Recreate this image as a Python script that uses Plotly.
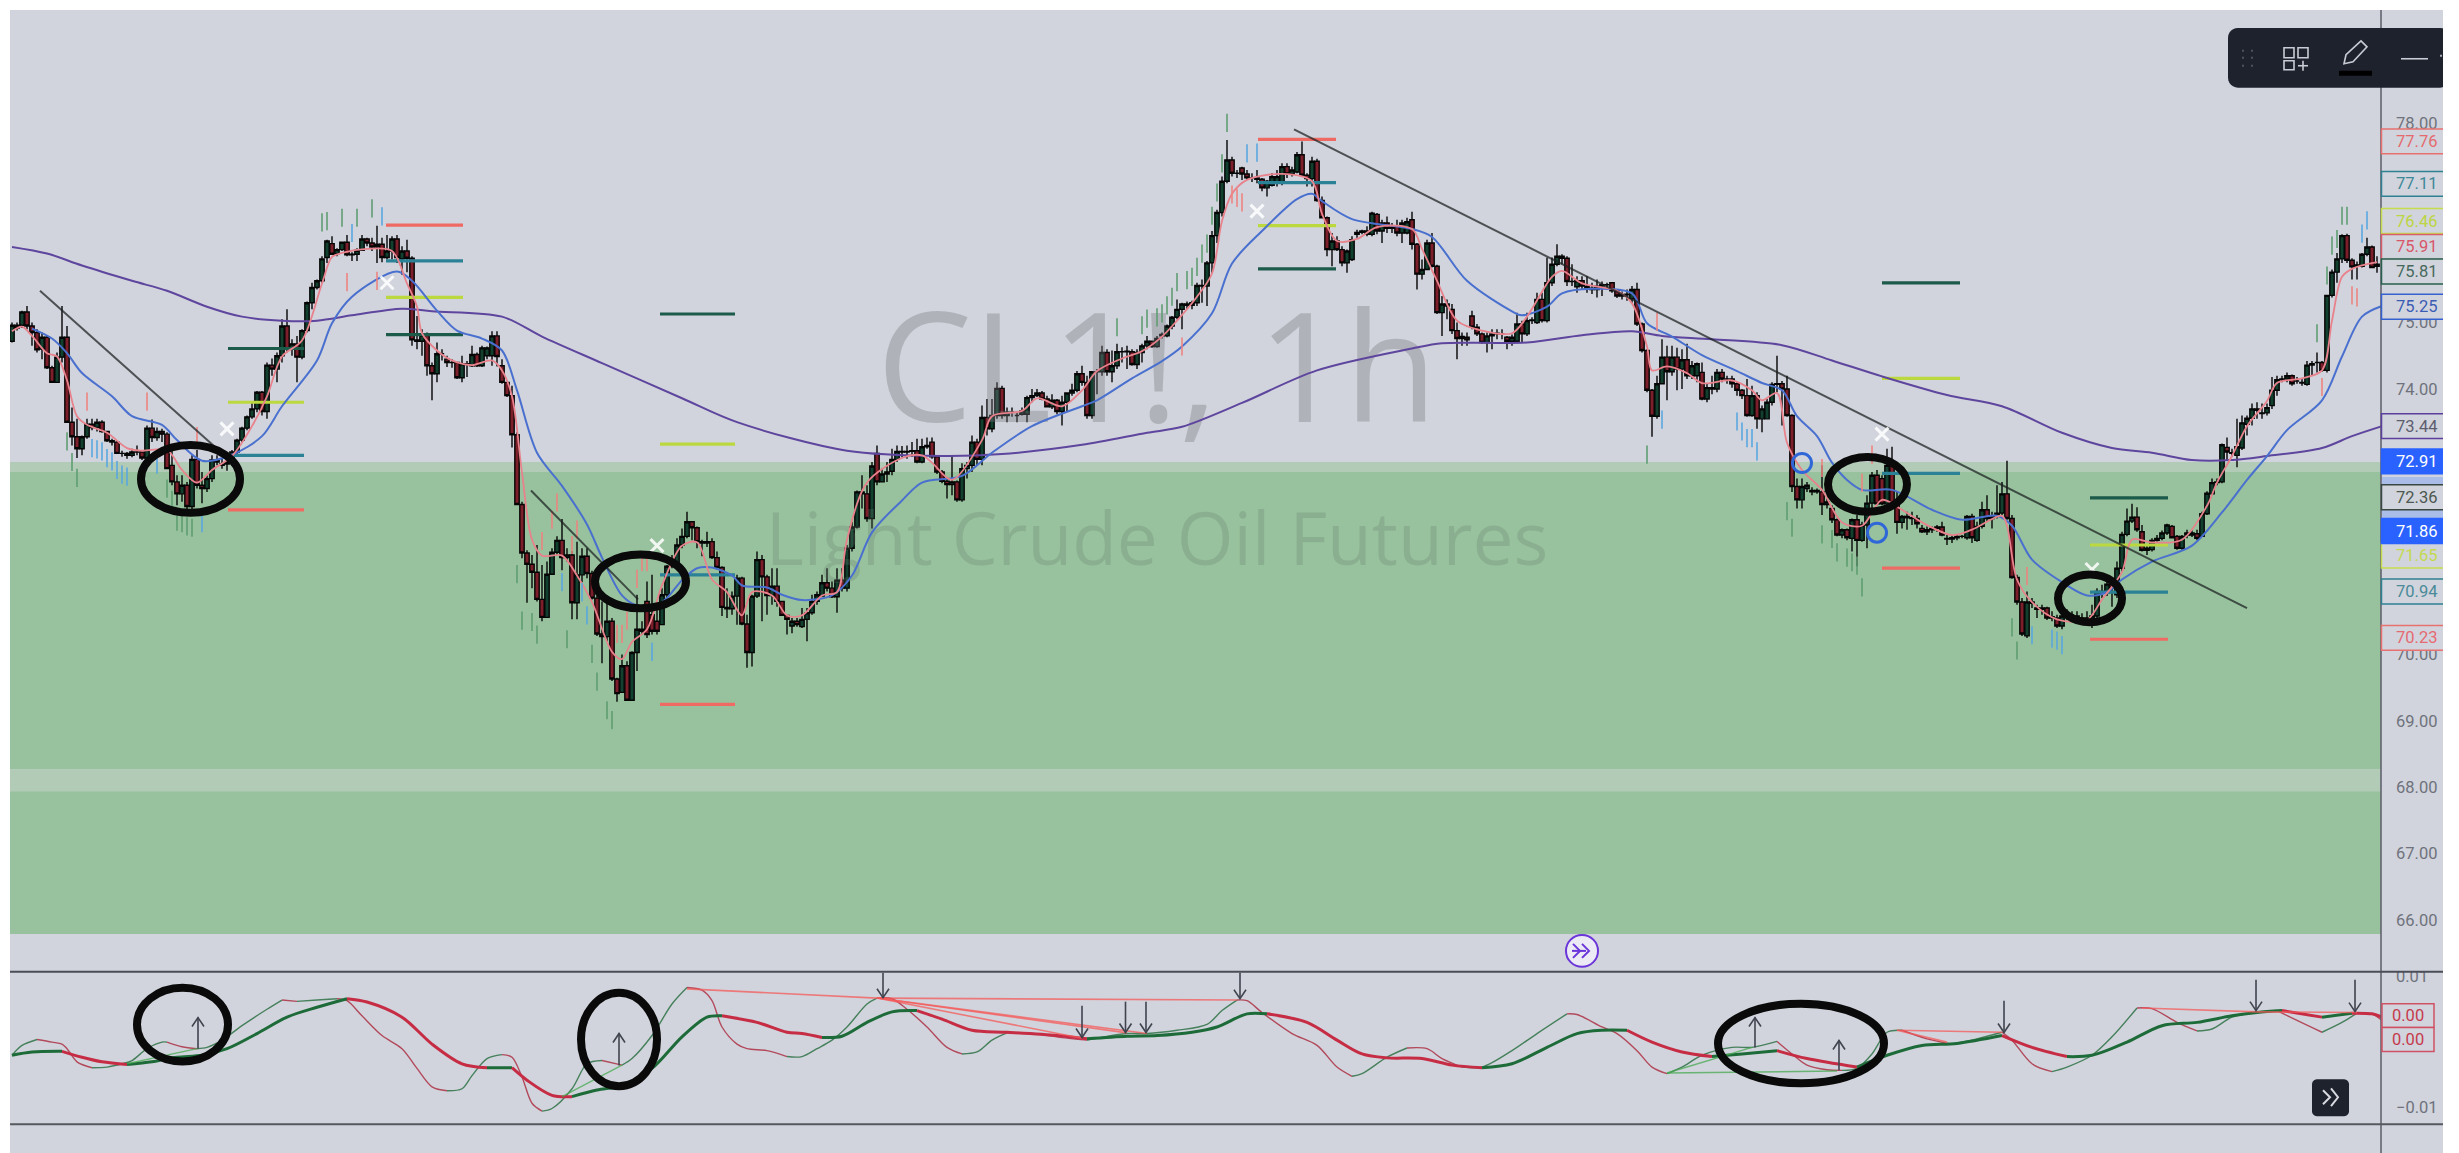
import math
import plotly.graph_objects as go

W, H = 2459, 1153
BG = "#d1d4dc"

# ---------------- candles (bar index is list position) ----------------
opens = [
74.72,74.96,74.96,75.16,74.95,74.85,74.6,74.78,74.32,74.1,
74.48,74.78,73.5,73.28,73.1,73.28,73.47,73.42,73.5,73.36,
73.22,73.2,73.03,73.03,73.0,73.05,73.05,72.96,73.41,73.27,
73.36,73.32,72.85,72.6,72.42,72.55,72.23,72.94,72.55,72.5,
72.65,72.93,72.85,72.87,72.9,73.05,73.23,73.41,73.58,73.7,
73.95,73.66,74.36,74.3,74.5,74.95,74.6,74.68,74.48,74.88,
75.3,75.53,75.63,75.98,76.19,76.04,76.1,76.21,76.02,76.03,
76.09,76.26,76.2,76.14,76.18,75.98,76.08,76.26,75.96,76.08,
75.97,74.74,74.72,74.81,74.35,74.23,74.53,74.45,74.4,74.4,
74.17,74.38,74.35,74.52,74.35,74.5,74.5,74.8,74.35,74.1,
73.9,73.31,72.26,71.53,71.36,71.24,70.83,70.56,71.21,71.54,
71.72,71.46,71.5,70.78,71.2,71.48,71.22,70.85,70.31,70.27,
70.5,69.63,69.43,69.83,69.31,70.03,70.38,70.8,70.6,70.5,
70.45,70.9,71.33,71.35,71.65,71.78,72.0,71.91,71.7,71.68,
71.7,71.46,71.31,70.71,70.69,70.88,71.15,70.46,70.03,70.88,
71.43,71.17,70.89,71.03,70.8,70.59,70.43,70.5,70.42,70.53,
70.63,70.8,70.88,71.08,71.0,70.87,71.12,71.0,71.6,71.92,
72.45,72.42,72.05,73.03,72.6,72.72,72.76,72.94,73.06,73.05,
73.06,73.07,72.9,73.13,73.2,72.98,72.75,72.61,72.56,72.6,
72.33,72.8,72.85,73.2,72.94,73.57,73.4,73.6,74.01,73.6,
73.65,73.6,73.62,73.62,73.87,73.9,73.94,73.85,73.73,73.83,
73.66,73.8,73.94,73.98,74.23,74.1,73.6,74.26,74.26,74.55,
74.26,74.35,74.56,74.56,74.56,74.37,74.55,74.65,74.72,74.64,
74.8,74.8,74.95,75.08,75.2,75.28,75.26,75.3,75.56,75.55,
75.9,76.31,76.66,77.13,77.45,77.25,77.33,77.24,77.18,77.18,
77.16,77.03,77.07,77.1,77.1,77.35,77.24,77.27,77.53,77.22,
77.17,77.43,76.84,76.58,76.1,76.23,76.1,75.9,75.95,76.33,
76.36,76.33,76.33,76.63,76.38,76.5,76.42,76.45,76.35,76.35,
76.55,76.18,75.73,75.8,76.2,75.85,75.15,75.28,75.2,74.88,
74.76,74.78,75.1,74.93,74.83,74.7,74.8,74.83,74.83,74.78,
74.72,74.72,74.98,74.83,75.03,75.0,75.35,75.03,75.6,75.88,
76.0,75.97,75.62,75.54,75.63,75.55,75.52,75.5,75.55,75.57,
75.6,75.48,75.4,75.42,75.36,75.5,74.98,74.58,73.98,73.59,
74.08,74.48,74.26,74.48,74.3,74.44,74.2,74.2,74.25,73.85,
74.02,74.0,74.25,74.15,74.15,74.08,73.98,73.9,73.6,73.9,
73.55,73.55,73.8,74.07,74.08,74.0,73.6,72.53,72.33,72.5,
72.45,72.47,72.45,72.26,72.2,72.03,71.8,71.88,71.75,72.03,
71.72,71.95,72.28,72.7,72.65,72.27,72.85,72.27,71.99,72.08,
72.06,72.05,71.9,71.85,71.88,71.9,71.92,71.75,71.74,71.76,
71.78,71.76,72.08,71.72,71.93,72.18,72.05,72.1,72.13,72.42,
72.05,71.16,70.79,70.28,70.79,70.7,70.68,70.7,70.55,70.55,
70.43,70.58,70.6,70.58,70.55,70.55,70.53,70.58,70.95,70.93,
71.06,70.9,71.3,71.81,72.01,72.07,71.85,71.57,71.58,71.72,
71.75,71.83,71.93,71.78,71.6,71.8,71.83,71.82,71.78,72.12,
72.42,72.59,72.6,73.12,73.03,73.0,73.11,73.47,73.56,73.7,
73.63,73.64,73.75,73.98,74.14,74.15,74.2,74.12,74.1,74.07,
74.36,74.4,74.4,74.28,75.41,75.76,75.96,76.31,75.94,75.85,
75.85,76.03,76.14,75.85]
closes = [
74.96,74.92,75.16,74.95,74.85,74.59,74.78,74.32,74.1,74.48,
74.78,73.5,73.28,73.1,73.28,73.47,73.42,73.5,73.36,73.22,
73.2,73.03,73.03,73.0,73.05,73.05,72.96,73.41,73.27,73.36,
73.32,72.8,72.6,72.42,72.55,72.23,72.94,72.55,72.5,72.65,
72.93,72.9,72.87,72.9,73.05,73.23,73.41,73.58,73.7,73.95,
73.66,74.36,74.3,74.5,74.95,74.6,74.68,74.48,74.88,75.3,
75.53,75.63,75.96,76.23,76.03,76.1,76.21,76.02,76.03,76.09,
76.26,76.2,76.14,76.18,75.98,76.08,76.26,75.98,76.08,75.97,
74.74,74.72,74.81,74.35,74.23,74.53,74.53,74.4,74.4,74.17,
74.38,74.37,74.52,74.35,74.62,74.62,74.8,74.49,74.1,73.9,
73.31,72.26,71.53,71.36,71.24,70.83,70.56,71.21,71.54,71.72,
71.46,71.5,70.78,71.2,71.48,71.22,70.85,70.31,70.27,70.5,
69.63,69.41,69.83,69.31,70.03,70.38,70.35,70.3,70.35,70.35,
70.9,71.33,71.35,71.65,71.78,72.0,71.91,71.7,71.68,71.7,
71.46,71.31,70.71,70.69,70.88,71.15,70.46,70.03,70.88,71.43,
71.17,70.89,71.03,70.8,70.59,70.53,70.5,70.45,70.53,70.63,
70.8,70.9,71.08,71.0,70.87,71.12,71.0,71.6,71.92,72.45,
72.42,72.05,72.84,72.6,72.72,72.75,72.94,73.06,73.05,73.06,
73.07,72.9,73.13,73.15,72.98,72.75,72.61,72.56,72.6,72.33,
72.8,72.85,73.2,72.94,73.57,73.4,73.6,74.01,73.6,73.65,
73.65,73.6,73.67,73.87,73.9,73.94,73.85,73.73,73.83,73.66,
73.8,73.94,73.98,74.23,74.1,73.6,74.26,74.26,74.55,74.26,
74.35,74.56,74.56,74.57,74.37,74.55,74.65,74.72,74.64,74.76,
74.82,74.95,75.08,75.2,75.28,75.26,75.3,75.56,75.55,75.9,
76.31,76.66,77.13,77.45,77.25,77.25,77.24,77.18,77.18,77.16,
77.03,77.13,77.2,77.2,77.35,77.24,77.3,77.53,77.22,77.17,
77.43,76.84,76.58,76.1,76.23,76.1,75.9,76.08,76.25,76.36,
76.38,76.38,76.65,76.38,76.5,76.42,76.45,76.35,76.5,76.52,
76.18,75.73,75.8,76.2,75.85,75.15,75.28,75.25,74.88,74.76,
74.79,74.74,74.93,74.83,74.7,74.8,74.83,74.84,74.83,74.72,
74.78,74.98,74.83,75.03,75.04,75.35,75.03,75.6,75.88,76.0,
75.97,75.62,75.62,75.63,75.55,75.52,75.5,75.55,75.57,75.57,
75.48,75.4,75.42,75.43,75.5,74.98,74.58,73.98,73.59,74.08,
74.48,74.26,74.48,74.3,74.44,74.2,74.35,74.38,73.85,74.02,
74.0,74.25,74.15,74.15,74.08,73.98,73.9,73.6,73.9,73.55,
73.7,73.8,74.07,74.08,74.0,73.6,72.53,72.33,72.53,72.55,
72.47,72.45,72.26,72.3,72.03,71.8,71.88,71.76,72.03,71.72,
71.95,72.28,72.7,72.27,72.27,72.85,72.27,71.99,72.08,72.06,
72.05,71.97,71.85,71.88,71.9,71.92,71.8,71.74,71.76,71.78,
71.78,72.08,71.76,71.93,72.18,72.05,72.08,72.13,72.42,72.05,
71.16,70.79,70.31,70.79,70.77,70.68,70.7,70.55,70.57,70.43,
70.58,70.6,70.6,70.57,70.55,70.53,70.58,70.95,70.93,71.06,
71.0,71.3,71.81,72.01,72.07,71.88,71.57,71.6,71.72,71.75,
71.83,71.95,71.76,71.6,71.78,71.83,71.8,71.75,72.12,72.43,
72.59,72.6,73.16,73.05,73.04,73.13,73.49,73.56,73.7,73.68,
73.64,73.72,73.98,74.14,74.15,74.2,74.08,74.12,74.09,74.36,
74.38,74.4,74.28,75.41,75.76,75.96,76.31,75.94,75.84,75.87,
76.03,76.14,75.83,75.88]
highs = [
75.0,75.0,75.18,75.25,75.0,74.9,74.85,74.8,74.35,74.55,
75.25,74.95,73.72,73.55,73.3,73.55,73.55,73.55,73.53,73.36,
73.25,73.22,73.07,73.05,73.1,73.15,73.05,73.45,73.54,73.42,
73.4,73.35,73.1,72.7,72.7,72.6,73.0,73.08,72.75,72.7,
73.0,73.0,72.95,72.92,73.08,73.25,73.43,73.6,73.8,73.97,
73.97,74.4,74.46,74.55,75.05,75.2,74.75,74.8,74.9,75.32,
75.6,75.65,76.0,76.25,76.3,76.12,76.22,76.32,76.06,76.12,
76.32,76.28,76.28,76.46,76.28,76.32,76.3,76.32,76.15,76.25,
76.0,75.1,74.9,74.85,74.4,74.7,74.6,74.5,74.45,74.4,
74.5,74.42,74.65,74.55,74.65,74.64,74.87,74.87,74.45,74.1,
74.05,73.35,72.3,71.57,71.5,71.65,71.35,71.4,71.6,71.78,
72.04,71.6,71.56,71.7,71.6,71.6,71.26,70.88,70.8,70.8,
70.55,69.65,70.0,69.9,70.05,70.9,70.5,71.1,71.2,70.7,
71.0,71.35,71.5,71.75,71.9,72.15,72.0,71.93,71.73,71.85,
71.75,71.55,71.33,71.0,70.95,71.2,71.17,70.6,70.9,71.55,
71.5,71.2,71.3,71.3,70.8,70.6,70.55,70.55,70.7,70.7,
70.9,70.95,71.2,71.3,71.1,71.3,71.3,71.65,72.0,72.47,
72.7,72.55,72.9,73.15,72.8,72.9,73.1,73.15,73.14,73.15,
73.2,73.25,73.25,73.27,73.27,73.0,72.78,72.65,73.0,72.62,
72.88,72.9,73.3,73.25,73.75,73.85,73.85,74.1,74.05,73.72,
73.72,73.65,73.72,73.9,74.0,74.0,73.97,73.9,73.92,73.85,
73.9,73.95,74.08,74.27,74.35,74.2,74.27,74.3,74.65,74.6,
74.58,74.68,74.63,74.65,74.6,74.6,74.68,74.8,74.72,74.8,
74.85,74.97,75.1,75.35,75.3,75.32,75.33,75.6,75.65,75.93,
76.38,76.7,77.2,77.75,77.5,77.3,77.35,77.3,77.25,77.3,
77.18,77.15,77.25,77.3,77.4,77.4,77.35,77.57,77.73,77.25,
77.5,77.47,76.9,76.6,76.35,76.3,76.15,76.1,76.3,76.4,
76.4,76.45,76.67,76.65,76.55,76.6,76.5,76.55,76.55,76.58,
76.67,76.2,75.95,76.25,76.35,75.87,75.4,75.35,75.28,75.0,
74.85,74.85,75.18,74.98,74.85,74.85,74.9,74.9,74.9,74.8,
74.82,75.15,75.03,75.15,75.08,75.45,75.45,75.98,75.98,76.18,
76.03,76.0,75.88,75.7,75.7,75.7,75.6,75.65,75.62,75.6,
75.6,75.5,75.47,75.5,75.55,75.6,75.0,74.6,74.0,74.2,
74.75,74.65,74.65,74.62,74.6,74.68,74.42,74.4,74.4,74.08,
74.2,74.3,74.3,74.2,74.2,74.1,74.0,74.15,74.05,73.95,
73.75,73.85,74.1,74.5,74.12,74.2,73.62,72.65,72.65,72.6,
72.52,72.5,72.85,72.35,72.25,72.05,71.9,71.9,72.05,72.1,
72.0,72.4,72.75,72.78,72.7,73.1,73.13,72.45,72.1,72.15,
72.15,72.1,71.95,71.93,71.93,71.95,72.0,71.8,71.8,71.8,
71.8,72.1,72.12,72.0,72.3,72.4,72.15,72.55,72.6,72.92,
72.1,71.2,70.85,70.95,70.85,70.75,70.75,70.72,70.65,70.6,
70.62,70.68,70.65,70.65,70.62,70.65,70.75,71.0,71.05,71.1,
71.15,71.4,71.85,72.2,72.27,72.22,71.95,71.65,71.75,71.8,
71.87,71.97,71.95,71.8,71.8,71.88,71.87,71.88,72.15,72.46,
72.65,72.65,73.18,73.27,73.1,73.55,73.6,73.6,73.78,73.8,
73.78,73.78,74.18,74.2,74.2,74.25,74.22,74.18,74.15,74.42,
74.42,74.55,74.42,75.42,75.8,76.05,76.33,76.34,75.97,75.92,
76.05,76.28,76.16,76.0]
lows = [
74.7,74.88,74.92,74.9,74.65,74.55,74.45,74.3,74.1,74.1,
74.4,73.5,73.15,72.96,73.0,73.25,73.38,73.36,73.34,73.2,
73.15,73.02,72.98,72.95,72.97,73.0,72.93,72.85,73.2,73.22,
73.2,72.79,72.55,72.25,72.3,72.18,72.15,72.5,72.28,72.45,
72.6,72.85,72.8,72.77,72.85,73.0,73.2,73.38,73.55,73.65,
73.6,73.55,74.2,74.1,74.4,74.55,74.5,74.1,74.45,74.85,
75.2,75.5,75.6,75.9,76.02,76.0,76.08,76.0,75.93,75.93,
76.08,76.15,76.08,75.9,75.91,75.95,75.95,75.9,75.72,75.76,
74.65,74.6,74.5,74.2,73.83,74.1,74.43,74.33,74.32,74.15,
74.1,74.18,74.33,74.33,74.33,74.45,74.35,74.34,74.08,73.88,
73.12,72.25,71.45,70.78,71.0,70.8,70.5,70.55,71.2,71.5,
71.27,71.4,70.53,70.53,71.09,71.15,70.83,70.28,69.87,70.2,
69.6,69.29,69.42,69.3,69.3,69.75,70.3,70.25,70.3,70.3,
70.45,70.85,71.3,71.3,71.6,71.75,71.72,71.6,71.48,71.62,
71.44,71.28,70.58,70.55,70.6,70.45,70.44,69.8,69.82,70.85,
70.5,70.6,70.75,70.72,70.58,70.3,70.32,70.42,70.4,70.2,
70.6,70.75,70.88,70.95,70.85,70.63,70.95,70.95,71.55,71.9,
72.2,72.0,71.9,72.55,72.6,72.6,72.7,72.9,72.97,72.95,
72.98,72.88,72.88,73.1,72.95,72.72,72.58,72.35,72.4,72.3,
72.3,72.65,72.75,72.85,72.85,73.3,73.35,73.55,73.55,73.5,
73.58,73.5,73.6,73.5,73.8,73.88,73.83,73.72,73.7,73.62,
73.45,73.66,73.9,73.95,74.05,73.55,73.55,73.92,74.2,74.2,
74.1,74.3,74.4,74.3,74.35,74.3,74.4,74.6,74.62,74.62,
74.76,74.78,74.9,75.05,74.9,75.2,75.2,75.25,75.3,75.25,
75.75,76.2,76.6,77.1,77.2,77.18,77.15,77.15,77.12,77.1,
76.98,76.9,77.05,77.05,77.07,77.18,77.2,77.25,77.2,77.05,
77.05,76.82,76.6,76.0,75.85,76.08,75.85,75.75,75.93,76.28,
76.33,76.3,76.3,76.33,76.2,76.35,76.35,76.3,76.2,76.33,
76.1,75.5,75.65,75.8,75.83,75.13,74.8,75.05,74.83,74.45,
74.65,74.65,74.9,74.8,74.68,74.55,74.6,74.75,74.75,74.6,
74.65,74.7,74.7,74.8,74.98,74.98,75.0,75.0,75.55,75.85,
75.88,75.55,75.55,75.45,75.5,75.45,75.43,75.38,75.4,75.5,
75.45,75.37,75.35,75.33,75.3,74.95,74.55,73.95,73.28,73.55,
74.08,73.83,74.2,73.98,74.0,74.15,74.15,74.1,73.83,73.8,
73.92,73.95,74.1,74.08,74.02,73.9,73.85,73.58,73.58,73.4,
73.35,73.55,73.75,73.95,73.45,73.58,72.45,72.2,72.2,72.45,
72.4,72.42,72.1,72.2,71.98,71.78,71.75,71.72,71.55,71.33,
71.7,71.6,72.2,72.25,72.25,72.25,72.25,71.82,71.9,71.88,
71.95,71.9,71.83,71.8,71.83,71.85,71.78,71.65,71.68,71.72,
71.75,71.73,71.68,71.7,71.9,72.0,71.9,72.05,72.1,72.03,
71.14,70.75,70.28,70.25,70.7,70.55,70.6,70.52,70.5,70.4,
70.38,70.52,70.52,70.5,70.47,70.45,70.4,70.55,70.85,70.88,
70.72,70.85,71.25,71.78,71.98,71.85,71.55,71.5,71.55,71.7,
71.72,71.8,71.75,71.58,71.58,71.75,71.77,71.72,71.78,72.1,
72.4,72.55,72.58,72.93,72.98,72.82,73.08,73.3,73.45,73.55,
73.55,73.6,73.7,73.9,74.1,74.1,74.05,74.08,74.05,74.05,
74.2,74.25,74.26,74.25,75.38,75.6,75.9,75.9,75.65,75.65,
75.83,76.0,75.82,75.75]

# ---------------- moving averages (bar index, price) ----------------
red_x = [0,2,4,7,9,11,13,15,19,23,26,31,34,37,40,44,48,51,54,58,62,64,66,71,76,79,81,82,85,88,92,96,98,100,102,104,106,110,113,116,120,122,124,127,130,134,137,140,143,146,148,152,155,158,162,165,167,171,178,182,184,188,194,196,202,205,210,214,217,222,226,230,233,237,240,242,244,247,254,260,262,265,269,273,280,282,285,289,294,300,303,308,310,314,321,324,327,328,331,335,338,344,348,350,353,355,358,362,366,370,374,378,382,388,392,398,399,401,404,409,415,418,422,424,428,434,439,441,444,447,451,453,458,462,464,466,468,473]
red_y = [74.87,74.94,74.8,74.54,74.49,74.13,73.59,73.46,73.34,73.11,73.07,73.08,72.78,72.59,72.78,72.99,73.44,73.89,74.49,74.73,75.59,75.99,76.05,76.11,76.08,75.59,75.24,74.84,74.58,74.43,74.36,74.43,74.28,73.89,72.74,71.73,71.49,71.49,71.19,70.79,70.04,69.93,70.19,70.38,71.04,71.64,71.69,71.13,70.94,70.59,70.94,70.89,70.59,70.59,70.89,70.94,71.73,72.59,72.96,73.0,72.89,72.63,73.23,73.59,73.67,73.86,73.74,73.98,74.27,74.46,74.57,74.79,75.03,75.39,75.74,76.53,76.94,77.15,77.24,77.13,76.64,76.23,76.26,76.44,76.41,76.11,75.63,75.03,74.88,74.84,75.09,75.69,75.78,75.59,75.48,75.29,74.64,74.28,74.34,74.24,74.09,74.13,73.98,73.83,73.94,73.19,72.78,72.48,71.99,71.94,72.33,72.18,71.99,71.8,71.88,72.09,71.94,71.13,70.79,70.53,70.52,70.83,71.24,71.73,71.69,71.73,72.24,72.59,72.99,73.44,73.82,74.09,74.16,74.28,75.03,75.69,75.81,75.91]
blue_x = [4,8,11,14,20,24,30,33,38,44,50,54,61,64,68,77,80,85,89,94,98,101,105,110,115,118,122,125,130,134,137,140,144,146,151,154,158,164,168,172,178,182,190,196,204,214,217,224,230,234,240,244,250,257,260,262,268,280,284,291,300,302,307,310,316,324,327,332,338,345,350,354,357,361,364,367,370,376,384,390,397,400,404,410,415,419,422,428,436,442,447,451,455,462,466,470,474]
blue_y = [74.91,74.76,74.54,74.24,73.89,73.59,73.46,73.23,72.92,73.01,73.29,73.74,74.43,74.99,75.39,75.77,75.63,75.18,74.88,74.76,74.58,73.98,73.04,72.54,71.96,71.46,70.89,70.74,70.79,71.12,71.3,71.31,71.19,71.04,71.01,70.9,70.82,70.89,71.19,71.84,72.32,72.59,72.69,73.04,73.44,73.74,73.83,74.16,74.42,74.64,75.14,75.89,76.38,76.86,76.94,76.83,76.56,76.41,76.29,75.63,75.17,75.11,75.24,75.44,75.51,75.44,74.99,74.79,74.51,74.27,74.09,73.98,73.59,73.29,72.89,72.63,72.48,72.48,72.18,72.03,72.09,71.94,71.43,71.09,70.89,70.94,71.13,71.4,71.64,72.14,72.63,72.99,73.38,73.83,74.49,75.09,75.25]
purple_x = [0,7,14,24,31,39,46,54,61,68,78,84,98,106,118,134,145,167,186,198,214,227,234,246,261,280,286,303,314,324,330,340,354,364,374,387,398,410,420,428,436,444,451,462,468,474]
purple_y = [76.14,76.04,75.86,75.63,75.48,75.24,75.09,75.03,75.03,75.11,75.21,75.17,75.09,74.79,74.39,73.86,73.5,73.07,72.99,73.02,73.16,73.34,73.43,73.79,74.28,74.61,74.69,74.7,74.81,74.87,74.8,74.75,74.66,74.43,74.19,73.91,73.74,73.34,73.11,73.04,72.93,72.93,72.99,73.11,73.29,73.44]

# ---------------- signal ticks ----------------
green_x = [11,12,13,31,32,33,34,35,36,62,63,66,69,72,101,102,104,105,111,116,117,119,120,221,226,227,229,230,231,232,233,235,236,237,238,239,240,241,242,243,327,355,356,362,364,365,367,368,369,370,400,401,461,463,464,465,466,467]
green_y = [73.21,72.9,72.66,72.5,72.33,72.0,71.98,71.93,71.91,76.51,76.53,76.58,76.58,76.72,71.21,70.51,70.49,70.3,70.23,70.01,69.59,69.16,69.01,74.93,74.96,75.06,75.08,75.14,75.26,75.39,75.61,75.64,75.69,75.84,76.04,76.19,76.61,76.96,77.4,78.01,73.01,72.16,71.91,71.81,71.74,71.54,71.46,71.39,71.34,71.01,70.41,70.06,74.84,75.71,76.16,76.26,76.61,76.61]
sky_x = [16,17,18,19,20,21,22,23,29,38,68,74,110,114,115,128,247,249,330,345,346,347,348,349,404,408,409,410,470,471]
sky_y = [73.11,73.09,73.06,72.96,72.91,72.78,72.71,72.68,72.86,71.98,76.35,76.6,71.09,70.94,70.59,70.04,77.55,77.56,73.54,73.51,73.36,73.26,73.26,73.06,70.29,70.24,70.21,70.14,76.34,76.54]
pink_x = [15,27,37,67,73,106,108,109,112,113,121,122,123,125,126,127,234,244,245,246,329,362,370,372,403,462,468,469]
pink_y = [73.81,73.81,73.29,75.61,75.63,71.71,72.03,72.29,71.65,71.88,70.31,70.31,70.51,71.14,71.39,71.39,74.64,76.93,76.88,76.81,75.01,72.81,72.59,73.01,71.18,74.03,75.41,75.38]
cross_x = [43,75,129,249,374,416]
cross_y = [73.4,75.6,71.64,76.68,73.32,71.28]
ring_x = [358,373]
ring_y = [72.885,71.835]

# ---------------- target levels: start bar, end bar, red, teal, yellow, dark green ----------------
level_x0 = [43.2,74.8,129.6,249.2,374,415.6]
level_x1 = [58.4,90.2,144.6,264.8,389.6,431.2]
level_red = [72.18,76.47,69.25,77.76,71.3,70.23]
level_teal = [73.0,75.93,71.2,77.11,72.73,70.94]
level_yellow = [73.8,75.38,73.17,76.46,74.16,71.65]
level_green = [74.61,74.82,75.13,75.81,75.6,72.36]

# trend lines
trend_x = [5.6,44.2,None,103.8,125.2,None,256.4,447]
trend_y = [75.48,72.885,None,72.47,70.83,None,77.91,70.7]

# ---------------- oscillator (x = bar index, y in units of 0.0001) ----------------
thin_x = [0,2,5,8,10,11,13,16,19,22,24,27,30,31,34,37,39,42,46,51,54,57,61,65,67,70,74,78,81,84,87,90,92,95,98,100,102,104,106,108,112,115,118,122,124,128,132,135,138,140,142,145,147,151,155,158,161,164,167,171,173,176,179,183,187,190,193,196,199,204,211,215,223,227,233,239,242,245,247,250,256,261,265,268,270,275,279,283,286,290,294,300,305,311,313,318,321,325,328,331,334,338,344,348,353,356,359,363,366,369,372,375,378,383,388,393,398,400,404,408,411,416,420,425,428,433,437,440,444,449,453,457,462,466,469,472,474]
thin_y = [-21,-6,3,-1,-4,-11,-31,-40,-39,-34,-29,-11,-1,-1,-8,-11,-9,2,24,49,63,61,63,65,62,39,9,-11,-41,-69,-75,-72,-52,-26,-20,-24,-54,-94,-106,-102,-72,-34,-29,-36,-26,9,57,82,78,62,22,-4,-11,-14,-23,-23,-11,2,22,57,66,65,49,22,-9,-19,-16,2,13,12,5,2,12,12,17,26,47,63,62,44,12,-6,-39,-53,-49,-24,-10,-11,-26,-39,-39,-14,12,42,41,22,12,-14,-39,-49,-39,-21,-9,-9,0,-19,-36,-43,-44,-41,-19,14,17,4,-4,4,14,2,-34,-46,-39,-21,7,51,50,29,16,19,37,44,47,32,14,29,43,42,32]
slow_x = [0,4,10,14,18,23,28,33,38,43,49,55,61,67,71,78,84,90,95,100,103,108,112,117,122,128,134,139,142,149,155,158,162,166,171,176,181,186,192,199,209,215,223,229,236,241,247,251,259,265,270,275,282,288,294,300,307,313,318,323,328,334,340,346,353,359,369,375,382,389,398,404,411,416,423,430,437,444,449,454,462,468,472,474]
slow_y = [-21,-16,-15,-24,-31,-35,-31,-24,-21,-11,12,37,52,65,60,37,-4,-34,-40,-40,-59,-82,-84,-74,-67,-41,7,37,39,29,14,12,6,8,29,45,47,34,17,14,9,4,8,9,14,22,42,42,29,2,-19,-25,-26,-36,-40,-34,-9,12,17,17,-1,-16,-23,-19,-14,-26,-39,-21,-6,-3,9,-9,-23,-21,-1,24,29,39,44,47,37,43,42,37]
div_red_x = [135,173,None,173,214,None,173,245,None,173,223,None,173,227,None,377,398,None,377,387,None,426,449,None,449,469]
div_red_y = [80,66,None,66,5,None,66,63,None,66,13,None,66,12,None,17,14,None,17,-1,None,51,45,None,45,44]
div_green_x = [23,37,None,110,122,None,331,365,None,331,348]
div_green_y = [-34,-11,None,-84,-36,None,-48,-45,None,-48,-9]

# price-axis tags: text, displayed price position, border, text colour, fill
tag_text = ["77.76","77.11","76.46","75.91","75.81","75.25","73.44","72.91","72.36","71.86","71.65","70.94","70.23"]
tag_pos = [77.73,77.09,76.53,76.14,75.77,75.24,73.44,72.91,72.37,71.86,71.49,70.95,70.25]
tag_line = ["#e8706f","#2f8091","#c6dc4e","#d95c6a","#27604c","#3560d0","#5c3f9c","#2962ff","#3a4640","#2962ff","#c6dc4e","#2f8091","#e8706f"]
tag_font = ["#e46a6e","#3c8798","#bcd542","#d9566a","#47695c","#3b5cb4","#5d5d70","#ffffff","#4c5850","#ffffff","#c3d950","#4a8a99","#e66a72"]
tag_fill = [BG,BG,BG,BG,BG,BG,BG,"#2962ff",BG,"#2962ff",BG,BG,BG]
price_ticks = [66,67,68,69,70,74,75,78]

# zone bands (low, high, colour)
band_lo = [72.75,72.75,68.27,65.79]
band_hi = [72.9,68.27,67.94,67.94]
band_col = ["#b1cbb7","#98c29d","#b1cbb7","#98c29d"]

# pixel helpers for the overlay furniture
def fx(x): return x / W
def fy(y): return 1 - y / H
def rect(x0, y0, x1, y1, fill=None, line=None, lw=1, layer="above"):
    return dict(type="rect", xref="paper", yref="paper", x0=fx(x0), x1=fx(x1), y0=fy(y0), y1=fy(y1),
                fillcolor=fill or "rgba(0,0,0,0)", line=dict(color=line or "rgba(0,0,0,0)", width=lw if line else 0), layer=layer)
def poly(pts, color, lw=2, fill=None, close=False):
    d = "M" + " L".join(f"{fx(x):.5f},{fy(y):.5f}" for x, y in pts) + (" Z" if close else "")
    return dict(type="path", xref="paper", yref="paper", path=d, fillcolor=fill or "rgba(0,0,0,0)",
                line=dict(color=color, width=lw), layer="above")
def rrect(x0, y0, x1, y1, r, fill):
    p = []
    for cx, cy, a0 in [(x1-r, y0+r, -90), (x1-r, y1-r, 0), (x0+r, y1-r, 90), (x0+r, y0+r, 180)]:
        for k in range(7):
            a = math.radians(a0 + 15 * k)
            p.append((cx + r*math.cos(a), cy + r*math.sin(a)))
    return poly(p, fill, 0, fill, True)
def ell(x0, y0, x1, y1, lw=8, color="#0a0a0a", fill=None):
    return dict(type="circle", xref="paper", yref="paper", x0=fx(x0), x1=fx(x1), y0=fy(y0), y1=fy(y1),
                line=dict(color=color, width=lw), fillcolor=fill or "rgba(0,0,0,0)", layer="above")

fig = go.Figure()
# watermark first, so everything sits on it
fig.add_trace(go.Scatter(x=[229], y=[74.08], mode="text", text=["CL1!, 1h"],
    textfont=dict(size=152, family="Open Sans", color="rgba(120,120,124,0.36)"), hoverinfo="skip"))
fig.add_trace(go.Scatter(x=[229], y=[71.62], mode="text", text=["Light Crude Oil Futures"],
    textfont=dict(size=73, family="Open Sans", color="rgba(100,125,110,0.26)"), hoverinfo="skip"))

def levels(vals, col):
    xs, ys = [], []
    for a, b, v in zip(level_x0, level_x1, vals):
        xs += [a, b, None]; ys += [v, v, None]
    fig.add_trace(go.Scatter(x=xs, y=ys, mode="lines", line=dict(color=col, width=3.2), hoverinfo="skip"))
levels(level_red, "#ee6a63"); levels(level_teal, "#2b8196"); levels(level_yellow, "#bcd83f"); levels(level_green, "#1c5a4a")

SMOOTH = dict(shape="spline", smoothing=0.9)
fig.add_trace(go.Scatter(x=purple_x, y=purple_y, mode="lines", line=dict(color="#5e459e", width=2, **SMOOTH)))
fig.add_trace(go.Scatter(x=blue_x, y=blue_y, mode="lines", line=dict(color="#4a70cf", width=2, **SMOOTH)))
fig.add_trace(go.Scatter(x=red_x, y=red_y, mode="lines", line=dict(color="#e8828c", width=1.8, **SMOOTH)))

bars = list(range(min(len(opens), len(highs), len(lows), len(closes))))
fig.add_trace(go.Candlestick(x=bars, open=opens[:len(bars)], high=highs[:len(bars)], low=lows[:len(bars)], close=closes[:len(bars)],
    whiskerwidth=0,
    increasing=dict(line=dict(color="#050505", width=1.4), fillcolor="#12402f"),
    decreasing=dict(line=dict(color="#050505", width=1.4), fillcolor="#7c1f2b")))

def ticks(xs, ys, col):
    fig.add_trace(go.Scatter(x=xs, y=ys, mode="markers", hoverinfo="skip",
        marker=dict(symbol="line-ns", size=13, color=col, line=dict(color=col, width=1.6))))
ticks(green_x, green_y, "#5f9e72"); ticks(sky_x, sky_y, "#5aa7e0"); ticks(pink_x, pink_y, "#ee8480")
fig.add_trace(go.Scatter(x=trend_x, y=trend_y, mode="lines", line=dict(color="rgba(25,30,30,0.72)", width=2)))
fig.add_trace(go.Scatter(x=cross_x, y=cross_y, mode="markers", hoverinfo="skip",
    marker=dict(symbol="x-thin", size=13, color="rgba(255,255,255,0.85)", line=dict(color="rgba(255,255,255,0.85)", width=3))))
fig.add_trace(go.Scatter(x=ring_x, y=ring_y, mode="markers", hoverinfo="skip",
    marker=dict(symbol="circle-open", size=19, color="#2f66d8", line=dict(color="#2f66d8", width=3))))

# oscillator: colour each stretch by direction of the line
def split(xs, ys):
    runs = []
    k = 0
    while k < len(xs) - 1:
        up = ys[k+1] >= ys[k]
        j = k + 1
        while j < len(xs) - 1 and (ys[j+1] >= ys[j]) == up:
            j += 1
        runs.append((up, xs[k:j+1], [v * 1e-4 for v in ys[k:j+1]]))
        k = j
    return runs
for xs, ys, wid, cg, cr in [(thin_x, thin_y, 1.4, "#46805c", "#b24a5c"), (slow_x, slow_y, 3, "#1d6b38", "#c62c44")]:
    for up, rx, ry in split(xs, ys):
        fig.add_trace(go.Scatter(x=rx, y=ry, xaxis="x2", yaxis="y2", mode="lines",
            line=dict(color=cg if up else cr, width=wid, **SMOOTH), hoverinfo="skip"))
fig.add_trace(go.Scatter(x=div_red_x, y=[None if v is None else v*1e-4 for v in div_red_y], xaxis="x2", yaxis="y2", mode="lines", line=dict(color="rgba(245,90,90,0.75)", width=1.6), hoverinfo="skip"))
fig.add_trace(go.Scatter(x=div_green_x, y=[None if v is None else v*1e-4 for v in div_green_y], xaxis="x2", yaxis="y2", mode="lines", line=dict(color="rgba(70,170,80,0.75)", width=1.4), hoverinfo="skip"))

shapes = [rect(10, 5, 2443, 1153, BG, layer="below")]
for lo, hi, c in zip(band_lo, band_hi, band_col):
    shapes.append(dict(type="rect", xref="paper", yref="y", x0=fx(10), x1=fx(2381), y0=lo, y1=hi,
                       fillcolor=c, line=dict(width=0), layer="below"))

# frame lines
shapes.append(poly([(2381, 5), (2381, 1153)], "#5a5d68", 1.5))
shapes.append(rect(2382, 955, 2443, 971, BG))
shapes.append(poly([(10, 971), (2443, 971)], "#4a4d57", 2))
shapes.append(poly([(10, 1124), (2443, 1124)], "#55585f", 2))

# blue band behind the two live-price tags
shapes.append(rect(2382, 474, 2444, 520, "#a9bde8"))
annots = []
def py(p): return 319 + (75 - p) / 0.015
order = [2, 0, 1, 3, 4, 5, 6, 8, 7, 10, 9, 11, 12]
for k in order:
    c = py(tag_pos[k])
    shapes.append(rect(2381.5, c - 12.5, 2446, c + 12.5, tag_fill[k], tag_line[k], 1.5))
    annots.append(dict(xref="paper", yref="paper", x=fx(2416), y=fy(c), text=tag_text[k], showarrow=False,
        font=dict(family="Roboto", size=16.5, color=tag_font[k]), xanchor="center", yanchor="middle"))
for c in (1015, 1039):
    shapes.append(rect(2382, c - 12, 2434, c + 12, BG, "#cf5264", 1.5))
    annots.append(dict(xref="paper", yref="paper", x=fx(2408), y=fy(c), text="0.00", showarrow=False,
        font=dict(family="Roboto", size=16.5, color="#c63a4e"), xanchor="center", yanchor="middle"))

# hand-drawn ellipses
for e in [(141,442,240,510),(595,552,686,606),(1828,454,1907,509),(2058,572,2122,620),
          (137,987,228,1061),(581,992,657,1086),(1718,1003,1884,1083)]:
    shapes.append(ell(*e))

# oscillator arrows
ARROW = "#40444f"
for x, y0, y1 in [(198,1048,1017),(619,1065,1033),(1755,1047,1017),(1839,1070,1040)]:
    shapes.append(poly([(x, y0), (x, y1)], ARROW, 1.6))
    shapes.append(poly([(x-6, y1+9), (x, y1), (x+6, y1+9)], ARROW, 1.6))
for x, y0, y1 in [(883,972,997),(1082,1005,1037),(1125.5,1001,1032),(1146,1001,1032),(1240,972,998),(2004,1000,1032),(2256,979,1010),(2355,979,1011)]:
    shapes.append(poly([(x, y0), (x, y1)], ARROW, 1.6))
    shapes.append(poly([(x-6, y1-9), (x, y1), (x+6, y1-9)], ARROW, 1.6))

# drawing toolbar
DARK = "#1e222d"
shapes.append(rrect(2228, 23, 2450, 83, 10, DARK))
for dx in (2243, 2252):
    for dy in (46, 53, 61):
        shapes.append(rect(dx - 1, dy - 1, dx + 1, dy + 1, "#50535e"))
ICON = "#c9ccd4"
shapes.append(rect(2284, 43, 2294, 53, None, ICON, 1.6))
shapes.append(rect(2298, 43, 2308, 53, None, ICON, 1.6))
shapes.append(rect(2284, 56, 2294, 65, None, ICON, 1.6))
shapes.append(poly([(2303, 56), (2303, 66)], ICON, 1.6))
shapes.append(poly([(2298, 61), (2308, 61)], ICON, 1.6))
shapes.append(poly([(2344, 59), (2346, 50), (2361, 36), (2367, 42), (2353, 57)], ICON, 1.6, None, True))
shapes.append(rect(2339, 66, 2372, 71, "#000000"))
shapes.append(poly([(2401, 54), (2428, 54)], ICON, 1.6))
shapes.append(poly([(2441, 50), (2441, 52)], ICON, 1.6))

# floating buttons
shapes.append(ell(1566, 934, 1598, 966, 2, "#6a35d9", "#eceaf5"))
shapes.append(poly([(1572, 950), (1586, 950)], "#6a35d9", 2))
shapes.append(poly([(1573, 943), (1580, 950), (1573, 957)], "#6a35d9", 2))
shapes.append(poly([(1582, 943), (1589, 950), (1582, 957)], "#6a35d9", 2))
shapes.append(rrect(2312, 1079, 2349, 1116, 5, DARK))
shapes.append(poly([(2323, 1090), (2330, 1097), (2323, 1104)], "#d8dae0", 2))
shapes.append(poly([(2331, 1088), (2338, 1097), (2331, 1106)], "#d8dae0", 2))

# white page edge to the right of the chart
shapes.append(rect(2443, 0, 2459, 1153, "#ffffff"))

fig.update_layout(
    width=W, height=H, autosize=False, showlegend=False, paper_bgcolor="#ffffff", plot_bgcolor="rgba(0,0,0,0)",
    margin=dict(l=0, r=0, t=0, b=0), shapes=shapes, annotations=annots, boxgap=0.08, boxgroupgap=0.05,
    xaxis=dict(domain=[fx(10), fx(2381)], range=[-0.4, 473.8], visible=False, rangeslider=dict(visible=False), fixedrange=True),
    xaxis2=dict(domain=[fx(10), fx(2381)], range=[-0.4, 473.8], visible=False, anchor="y2", fixedrange=True),
    yaxis=dict(domain=[fy(971), fy(5)], range=[65.22, 79.71], side="right", anchor="x", tickvals=price_ticks, tickformat=".2f",
               showgrid=False, zeroline=False, showline=False, ticks="", ticklabelstandoff=14,
               tickfont=dict(family="Roboto", size=16.5, color="#6f727c"), fixedrange=True),
    yaxis2=dict(domain=[fy(1124), fy(971)], range=[-0.01258, 0.0106], side="right", anchor="x2", tickvals=[0.01, -0.01], ticktext=["0.01", "\u22120.01"],
                showgrid=False, zeroline=False, showline=False, ticks="", ticklabelstandoff=14,
                tickfont=dict(family="Roboto", size=16.5, color="#6f727c"), fixedrange=True),
)
fig.write_html("out.html", config=dict(displayModeBar=False),
               post_script="document.body.style.margin='0';document.documentElement.style.overflow='hidden';")
